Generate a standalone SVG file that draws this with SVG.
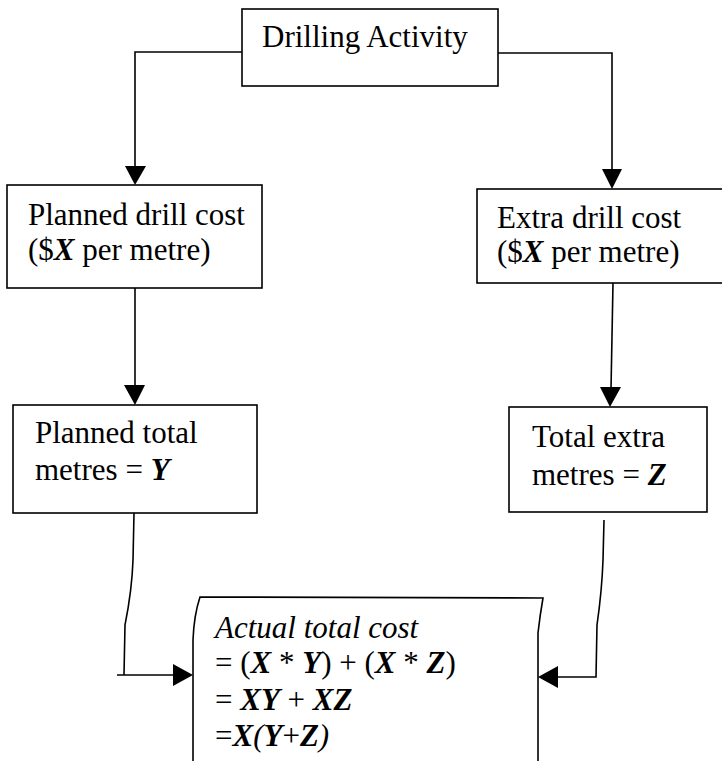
<svg xmlns="http://www.w3.org/2000/svg" width="722" height="761" viewBox="0 0 722 761">
<style>
.box{fill:#fff;stroke:#000;stroke-width:1.6}
.ln{fill:none;stroke:#000;stroke-width:1.6}
.ah{fill:#000}
text{font-family:"Liberation Serif","Times New Roman",serif;font-size:31px;fill:#000}
.bi{font-weight:bold;font-style:italic}
.it{font-style:italic}
</style>
<rect width="722" height="761" fill="#fff"/>
<g id="connectors">
<path class="ln" d="M242,52 H135 V168"/>
<polygon class="ah" points="125,166 146,166 135,185"/>
<path class="ln" d="M498,53 H612 V171"/>
<polygon class="ah" points="602,169 622,169 612,189"/>
<path class="ln" d="M135,288 V387"/>
<polygon class="ah" points="124,385 145,385 135,405"/>
<path class="ln" d="M613,283 L611,389"/>
<polygon class="ah" points="600,387 621,387 610,407"/>
<path class="ln" d="M134,513 L133,560 Q132,590 125,625 L124,675"/>
<path class="ln" d="M117,675 H175"/>
<polygon class="ah" points="173,664 173,686 193,675"/>
<path class="ln" d="M604,520 L603,560 Q602,590 597,625 L596,677 H556"/>
<polygon class="ah" points="558,666 558,688 538,677"/>
</g>
<g id="drilling-activity">
<rect class="box" x="242" y="9" width="256" height="77"/>
<text x="262" y="47">Drilling Activity</text>
</g>
<g id="planned-drill-cost">
<rect class="box" x="7" y="185" width="255" height="103"/>
<text x="28" y="225">Planned drill cost</text>
<text x="28" y="260">($<tspan class="bi">X</tspan> per metre)</text>
</g>
<g id="extra-drill-cost">
<rect class="box" x="477" y="189" width="260" height="94"/>
<text x="497" y="228">Extra drill cost</text>
<text x="497" y="262">($<tspan class="bi">X</tspan> per metre)</text>
</g>
<g id="planned-total-metres">
<rect class="box" x="13" y="405" width="244" height="108"/>
<text x="35" y="443">Planned total</text>
<text x="35" y="480">metres = <tspan class="bi">Y</tspan></text>
</g>
<g id="total-extra-metres">
<rect class="box" x="509" y="407" width="198" height="105"/>
<text x="532" y="447">Total extra</text>
<text x="532" y="485">metres = <tspan class="bi">Z</tspan></text>
</g>
<g id="actual-total-cost">
<path class="box" d="M193,770 L193,640 Q194,615 200,597 L543,598 Q540,615 538,633 L538,770"/>
<text x="215" y="638" class="it">Actual total cost</text>
<text x="215" y="673">= (<tspan class="bi">X</tspan> * <tspan class="bi">Y</tspan>) + (<tspan class="bi">X</tspan> * <tspan class="bi">Z</tspan>)</text>
<text x="215" y="710">= <tspan class="bi">XY</tspan> + <tspan class="bi">XZ</tspan></text>
<text x="215" y="746">=<tspan class="bi">X</tspan><tspan class="it">(</tspan><tspan class="bi">Y</tspan>+<tspan class="bi">Z</tspan><tspan class="it">)</tspan></text>
</g>
</svg>
